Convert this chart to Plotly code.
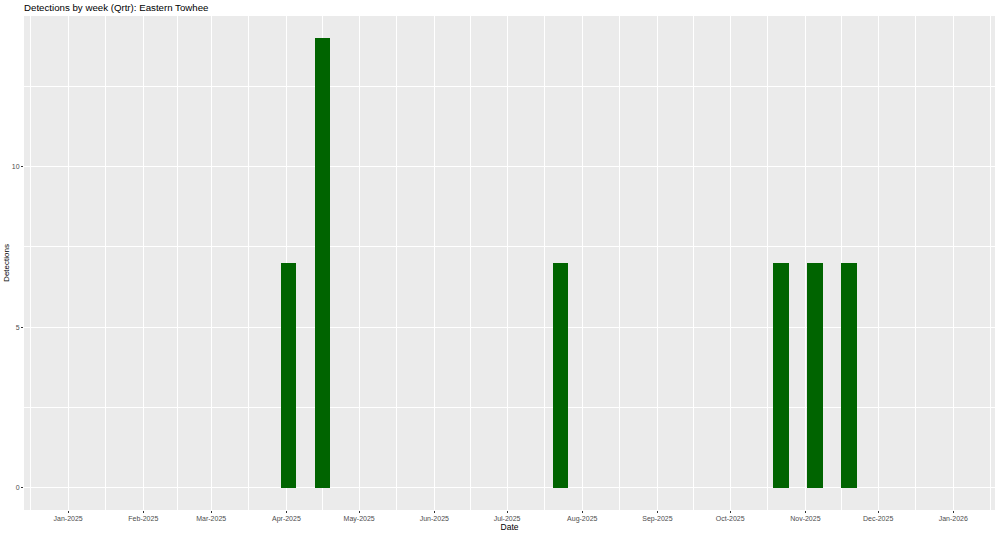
import plotly.graph_objects as go
import pandas as pd

# Data
week_dates = ["2025-04-02", "2025-04-16", "2025-07-23", "2025-10-22", "2025-11-05", "2025-11-19"]
detections = [7, 14, 7, 7, 7, 7]

month_ticks = pd.date_range("2025-01-01", "2026-01-01", freq="MS")
month_labels = [d.strftime("%b-%Y") for d in month_ticks]

y_ticks = [0, 5, 10]
y_minor = [2.5, 7.5, 12.5]

x_limits = (pd.Timestamp("2025-01-01"), pd.Timestamp("2025-12-31"))
span = x_limits[1] - x_limits[0]
x_range = [x_limits[0] - span * 0.05, x_limits[1] + span * 0.05]

# minor x grid at midpoints between month breaks (incl. one before/after)
ext = [month_ticks[0] - (month_ticks[1] - month_ticks[0])] + list(month_ticks) + [month_ticks[-1] + (month_ticks[-1] - month_ticks[-2])]
x_minor = [ext[i] + (ext[i + 1] - ext[i]) / 2 for i in range(len(ext) - 1)]

bar_width_ms = 0.9 * 7 * 86400000

fig = go.Figure(
    go.Bar(
        x=pd.to_datetime(week_dates),
        y=detections,
        width=[bar_width_ms] * len(detections),
        marker=dict(color="#006400", line=dict(width=0)),
        hoverinfo="skip",
    )
)

fig.update_layout(
    template="none",
    width=1000,
    height=534,
    paper_bgcolor="white",
    plot_bgcolor="#EBEBEB",
    margin=dict(l=24, r=5, t=16, b=24),
    font=dict(family="Liberation Sans, Arial, sans-serif", color="black"),
    showlegend=False,
    bargap=0,
    title=dict(
        text="Detections by week (Qrtr): Eastern Towhee",
        x=0, xref="paper", xanchor="left",
        y=1 - 8 / 534, yref="container", yanchor="middle",
        font=dict(size=9.7, color="black"),
    ),
)

fig.update_xaxes(
    range=x_range,
    tickmode="array",
    tickvals=list(month_ticks),
    ticktext=month_labels,
    tickfont=dict(size=7, color="#4D4D4D"),
    ticks="outside", ticklen=2, tickcolor="#333333", tickwidth=1,
    showgrid=True, gridcolor="white", gridwidth=1.1,
    zeroline=False, showline=False,
    minor=dict(tickmode="array", tickvals=x_minor, showgrid=True, gridcolor="white", gridwidth=0.5, ticks=""),
    title=dict(text="Date", font=dict(size=8.5, color="black"), standoff=0),
    automargin=False,
)

fig.update_yaxes(
    range=[-0.7, 14.7],
    tickmode="array",
    tickvals=y_ticks,
    tickfont=dict(size=7, color="#4D4D4D"),
    ticks="outside", ticklen=2, tickcolor="#333333", tickwidth=1,
    showgrid=True, gridcolor="white", gridwidth=1.1,
    zeroline=False, showline=False,
    minor=dict(tickmode="array", tickvals=y_minor, showgrid=True, gridcolor="white", gridwidth=0.5, ticks=""),
    title=dict(text="Detections", font=dict(size=8, color="black"), standoff=1),
    automargin=False,
)

fig.write_html(
    "out.html",
    config={"displayModeBar": False},
    post_script="document.body.style.margin='0';",
)
